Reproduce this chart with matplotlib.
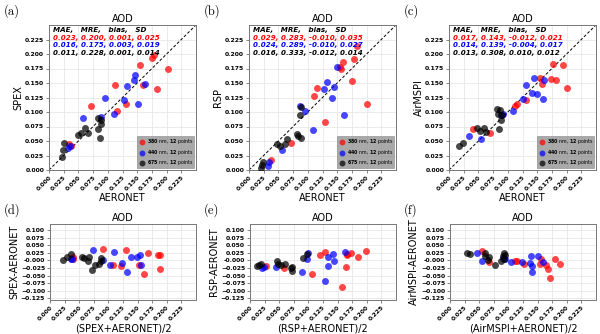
import numpy as np
import matplotlib
matplotlib.use("Agg")
import matplotlib.pyplot as plt

plt.rcParams['mathtext.fontset'] = 'dejavusans'
plt.rcParams['axes.unicode_minus'] = False

# ---------------- data ----------------
instruments = ["SPEX", "RSP", "AirMSPI"]
wavelengths = ["380", "440", "675"]
colors = ["red", "blue", "black"]

# SPEX
spex_aer380 = [0.034, 0.038, 0.071, 0.112, 0.116, 0.131, 0.155, 0.160, 0.176, 0.179, 0.183, 0.202]
spex_val380 = [0.045, 0.042, 0.110, 0.147, 0.101, 0.113, 0.181, 0.146, 0.193, 0.198, 0.139, 0.174]
spex_aer440 = [0.033, 0.035, 0.057, 0.089, 0.095, 0.110, 0.128, 0.132, 0.144, 0.146, 0.151, 0.163]
spex_val440 = [0.038, 0.041, 0.090, 0.092, 0.124, 0.096, 0.120, 0.144, 0.155, 0.163, 0.113, 0.148]
spex_aer675 = [0.022, 0.024, 0.026, 0.050, 0.054, 0.061, 0.066, 0.083, 0.084, 0.087, 0.088, 0.089]
spex_val675 = [0.022, 0.034, 0.047, 0.060, 0.063, 0.072, 0.063, 0.090, 0.070, 0.056, 0.086, 0.079]

# RSP
rsp_aer380 = [0.037, 0.071, 0.111, 0.115, 0.129, 0.155, 0.157, 0.160, 0.176, 0.179, 0.183, 0.201]
rsp_val380 = [0.018, 0.047, 0.128, 0.142, 0.083, 0.177, 0.175, 0.186, 0.154, 0.191, 0.213, 0.114]
rsp_aer440 = [0.033, 0.034, 0.056, 0.087, 0.095, 0.108, 0.127, 0.132, 0.142, 0.145, 0.150, 0.162]
rsp_val440 = [0.007, 0.013, 0.034, 0.110, 0.101, 0.069, 0.140, 0.152, 0.125, 0.143, 0.177, 0.095]
rsp_aer675 = [0.021, 0.024, 0.022, 0.048, 0.053, 0.061, 0.065, 0.082, 0.083, 0.086, 0.088, 0.089]
rsp_val675 = [0.004, 0.014, 0.008, 0.045, 0.042, 0.045, 0.054, 0.062, 0.058, 0.095, 0.108, 0.056]

# AirMSPI
msp_aer380 = [0.040, 0.069, 0.113, 0.115, 0.131, 0.154, 0.159, 0.173, 0.177, 0.182, 0.194, 0.200]
msp_val380 = [0.070, 0.063, 0.110, 0.113, 0.121, 0.159, 0.149, 0.157, 0.183, 0.155, 0.181, 0.142]
msp_aer440 = [0.034, 0.055, 0.088, 0.092, 0.108, 0.126, 0.131, 0.141, 0.144, 0.149, 0.160, 0.162]
msp_val440 = [0.059, 0.054, 0.095, 0.097, 0.102, 0.122, 0.147, 0.133, 0.159, 0.131, 0.122, 0.156]
msp_aer675 = [0.017, 0.024, 0.048, 0.052, 0.060, 0.063, 0.081, 0.083, 0.086, 0.088, 0.085, 0.090]
msp_val675 = [0.042, 0.046, 0.073, 0.067, 0.072, 0.066, 0.105, 0.097, 0.104, 0.086, 0.070, 0.095]

stats_header = "MAE,   MRE,   bias,   SD"
spex_stats = ["0.023, 0.200, 0.001, 0.025", "0.016, 0.175, 0.003, 0.019", "0.011, 0.228, 0.001, 0.014"]
rsp_stats = ["0.029, 0.283, -0.010, 0.035", "0.024, 0.289, -0.010, 0.027", "0.016, 0.333, -0.012, 0.014"]
msp_stats = ["0.017, 0.143, -0.012, 0.021", "0.014, 0.139, -0.004, 0.017", "0.013, 0.308, 0.010, 0.012"]

tick_vals = np.arange(0, 0.226, 0.025)
diff_ticks = np.arange(-0.125, 0.101, 0.025)

datasets = [
    ([spex_aer380, spex_aer440, spex_aer675], [spex_val380, spex_val440, spex_val675], spex_stats),
    ([rsp_aer380, rsp_aer440, rsp_aer675], [rsp_val380, rsp_val440, rsp_val675], rsp_stats),
    ([msp_aer380, msp_aer440, msp_aer675], [msp_val380, msp_val440, msp_val675], msp_stats),
]
top_labels = ["(a)", "(b)", "(c)"]
bot_labels = ["(d)", "(e)", "(f)"]

fig = plt.figure(figsize=(6.0, 3.34), dpi=100)
W, H = 600.0, 334.0

lefts = [49, 249, 449]
axw = 147
top_t, top_b = 25, 170
bot_t, bot_b = 224, 300

tick_fs = 4.4
label_fs = 7
alpha = 0.72
msize = 25

def style_ax(ax):
    ax.grid(True, color='#e3e3e3', linewidth=0.5)
    ax.set_axisbelow(True)
    for s in ax.spines.values():
        s.set_color('#777777')
        s.set_linewidth(0.7)
    ax.tick_params(length=2, width=0.5, pad=1.5, labelsize=tick_fs, color='#555555')
    for lab in ax.get_xticklabels() + ax.get_yticklabels():
        lab.set_fontweight('bold')

for i, (aers, vals, stats) in enumerate(datasets):
    name = instruments[i]
    L = lefts[i]
    ax = fig.add_axes([L / W, 1 - top_b / H, axw / W, (top_b - top_t) / H])
    for k in range(3):
        ax.scatter(aers[k], vals[k], s=msize, c=colors[k], alpha=alpha, linewidths=0,
                   label=r'$\bf{%s}$ nm, $\bf{12}$ points' % wavelengths[k], zorder=3)
    ax.plot([0, 0.25], [0, 0.25], 'k--', linewidth=0.7, dashes=(3, 2), zorder=2)
    ax.set_xlim(0, 0.25)
    ax.set_ylim(0, 0.25)
    ax.set_xticks(tick_vals)
    ax.set_yticks(tick_vals)
    ax.set_xticklabels(["%.3f" % t for t in tick_vals], rotation=45, ha='right',
                       rotation_mode='anchor')
    ax.set_yticklabels(["%.3f" % t for t in tick_vals])
    style_ax(ax)
    ax.set_title("AOD", fontsize=label_fs, pad=2)
    ax.set_xlabel("AERONET", fontsize=label_fs, labelpad=1)
    ax.set_ylabel(name, fontsize=label_fs, labelpad=1)
    leg = ax.legend(loc='lower right', fontsize=3.4, frameon=True, facecolor='#8c8c8c',
                    framealpha=0.75, edgecolor='#8c8c8c', borderpad=0.35,
                    handletextpad=0.1, markerscale=0.85, borderaxespad=0.25,
                    labelspacing=0.3, handlelength=1.6)
    leg.get_frame().set_linewidth(0.0)
    ys = [0.965, 0.912, 0.859, 0.806]
    ax.text(0.025, ys[0], stats_header, transform=ax.transAxes, fontsize=5.1,
            fontweight='bold', fontstyle='italic', color='black', va='center', zorder=5)
    for k in range(3):
        ax.text(0.025, ys[k + 1], stats[k], transform=ax.transAxes, fontsize=5.1,
                fontweight='bold', fontstyle='italic', color=colors[k], va='center', zorder=5)
    fig.text((L - 45) / W, 1 - 11 / H, top_labels[i], fontsize=9, family='cmr10',
             va='center', ha='left')

    # difference plot
    bx = fig.add_axes([(L + 1) / W, 1 - bot_b / H, (axw - 1) / W, (bot_b - bot_t) / H])
    for k in range(3):
        a = np.array(aers[k])
        v = np.array(vals[k])
        bx.scatter((a + v) / 2, v - a, s=msize, c=colors[k], alpha=alpha, linewidths=0, zorder=3)
    bx.set_xlim(0, 0.25)
    bx.set_ylim(-0.13, 0.12)
    bx.set_xticks(tick_vals)
    bx.set_yticks(diff_ticks)
    bx.set_xticklabels(["%.3f" % t for t in tick_vals], rotation=45, ha='right',
                       rotation_mode='anchor')
    bx.set_yticklabels(["%.3f" % t if t >= -1e-9 else "\u2212%.3f" % abs(t) for t in diff_ticks])
    style_ax(bx)
    bx.set_title("AOD", fontsize=label_fs, pad=2)
    bx.set_xlabel("(%s+AERONET)/2" % name, fontsize=label_fs, labelpad=1)
    bx.set_ylabel("%s-AERONET" % name, fontsize=label_fs, labelpad=1)
    fig.text((L - 45) / W, 1 - 210 / H, bot_labels[i], fontsize=9, family='cmr10',
             va='center', ha='left')

fig.savefig("out.png", dpi=100)
